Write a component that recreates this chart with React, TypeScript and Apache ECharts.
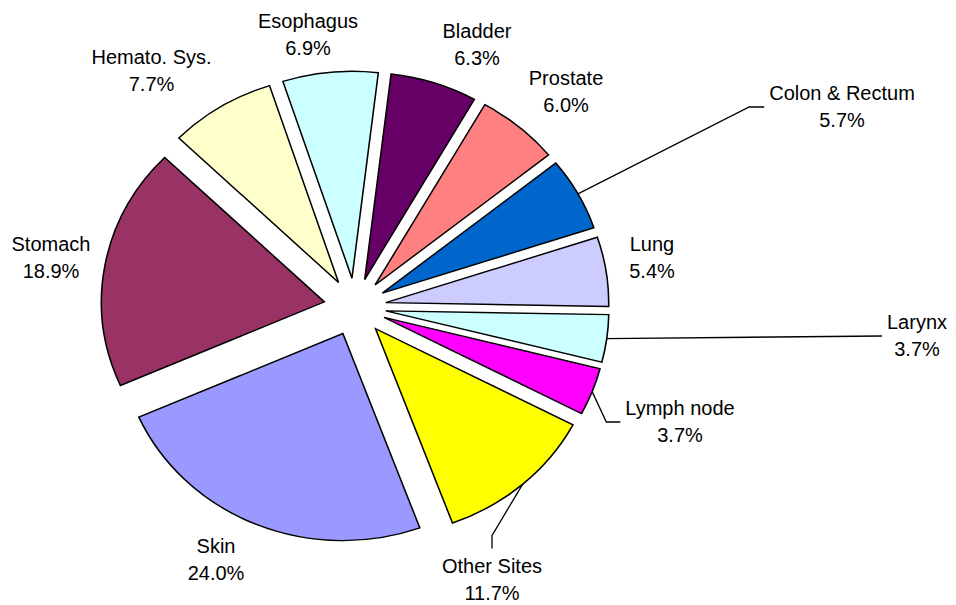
import React, { useEffect, useRef } from "react";
import * as echarts from "echarts";

// ---- data ----
const CATEGORIES = [
  "Bladder",
  "Prostate",
  "Colon & Rectum",
  "Lung",
  "Larynx",
  "Lymph node",
  "Other Sites",
  "Skin",
  "Stomach",
  "Hemato. Sys.",
  "Esophagus",
];
const PERCENTS = [6.3, 6.0, 5.7, 5.4, 3.7, 3.7, 11.7, 24.0, 18.9, 7.7, 6.9];

// ---- styles / layout ----
const COLORS = [
  "#660066",
  "#FF8080",
  "#0066CC",
  "#CCCCFF",
  "#CCFFFF",
  "#FF00FF",
  "#FFFF00",
  "#9999FF",
  "#993366",
  "#FFFFCC",
  "#CCFFFF",
];
const CX = 355;
const CY = 307;
const RADIUS = 215;
const EXPLODE = 30;
const SCALE_X = 1.037; // the reference pie is slightly elliptical
const SCALE_Y = 0.963;
const START_CLOCK = 6.8; // degrees clockwise from 12 o'clock
const LABEL_POS: [number, number][] = [
  [477, 44.5],
  [566, 91],
  [842, 106],
  [652, 257.5],
  [917, 335],
  [680, 421],
  [492, 579.5],
  [216, 559],
  [51, 257.5],
  [151.5, 70],
  [308, 34],
];
const LEADER_SIDE: (string | null)[] = [null, null, "left", null, "left", "left", "top", null, null, null, null];
const LEADER_LEG = [0, 0, 15, 0, 0, 14, 13, 0, 0, 0, 0];
const FONT = 'Arial, "Liberation Sans", sans-serif';

function buildOption(mode: "slices" | "labels") {
  const total = PERCENTS.reduce((a, b) => a + b, 0);
  let cum = 0;
  const mids = PERCENTS.map((v) => {
    const m = START_CLOCK + (360 * (cum + v / 2)) / total;
    cum += v;
    return (m * Math.PI) / 180;
  });

  const series = CATEGORIES.map((_, i) => {
    const ux = Math.sin(mids[i]);
    const uy = -Math.cos(mids[i]);
    const scx = CX + EXPLODE * ux;
    const scy = CY + EXPLODE * uy;
    const side = LEADER_SIDE[i];
    const showSlice = mode === "slices";
    return {
      type: "pie",
      center: [scx, scy],
      radius: RADIUS,
      startAngle: 90 - START_CLOCK,
      clockwise: true,
      avoidLabelOverlap: false,
      silent: true,
      emphasis: { disabled: true },
      label: {
        position: "outside",
        fontSize: 20,
        lineHeight: 27,
        color: "#000",
        fontFamily: FONT,
        formatter: (p: any) => `${p.name}\n${Number(p.value).toFixed(1)}%`,
      },
      labelLine: { length: 10, length2: 10, lineStyle: { color: "#000", width: 1.3 } },
      labelLayout: (params: any) => {
        if (params.dataIndex !== i) return {};
        const [lx, ly] = LABEL_POS[i];
        const w = params.labelRect.width;
        const h = params.labelRect.height;
        const out: any = { x: lx, y: ly, align: "center", verticalAlign: "middle" };
        if (side) {
          const ax = scx + RADIUS * ux;
          const ay = scy + RADIUS * uy;
          const p0 = [CX + (ax - CX) * SCALE_X, CY + (ay - CY) * SCALE_Y];
          let end: number[];
          let bend: number[];
          if (side === "left") {
            end = [lx - w / 2 - 5, ly + 1];
            bend = [end[0] - LEADER_LEG[i], end[1]];
          } else {
            end = [lx, ly - h / 2 - 4];
            bend = [end[0], end[1] - LEADER_LEG[i]];
          }
          out.labelLinePoints = [p0, bend, end];
        }
        return out;
      },
      data: CATEGORIES.map((name, j) =>
        j === i && showSlice
          ? {
              name,
              value: PERCENTS[j],
              itemStyle: {
                color: COLORS[j],
                borderColor: "#000",
                borderWidth: 1.5,
                borderJoin: "miter",
                borderMiterLimit: 10,
              },
              label: { show: false },
              labelLine: { show: false },
            }
          : j === i
          ? {
              name,
              value: PERCENTS[j],
              itemStyle: { color: "rgba(0,0,0,0)", borderWidth: 0 },
              label: { show: true },
              labelLine: { show: side != null },
            }
          : {
              name,
              value: PERCENTS[j],
              itemStyle: { color: "rgba(0,0,0,0)", borderWidth: 0 },
              label: { show: false },
              labelLine: { show: false },
            }
      ),
    };
  });

  return {
    animation: false,
    series,
  };
}

export default function App() {
  const sliceRef = useRef<HTMLDivElement>(null);
  const labelRef = useRef<HTMLDivElement>(null);
  useEffect(() => {
    if (!sliceRef.current || !labelRef.current) return;
    const slices = echarts.init(sliceRef.current, undefined, { renderer: "svg" });
    slices.setOption(buildOption("slices") as any);
    const labels = echarts.init(labelRef.current, undefined, { renderer: "svg" });
    labels.setOption(buildOption("labels") as any);
    return () => {
      slices.dispose();
      labels.dispose();
    };
  }, []);
  return (
    <div style={{ position: "fixed", left: 0, top: 0, width: 956, height: 605, background: "#fff" }}>
      <div
        ref={sliceRef}
        style={{
          position: "absolute",
          left: 0,
          top: 0,
          width: 956,
          height: 605,
          transform: `scale(${SCALE_X}, ${SCALE_Y})`,
          transformOrigin: `${CX}px ${CY}px`,
        }}
      />
      <div ref={labelRef} style={{ position: "absolute", left: 0, top: 0, width: 956, height: 605 }} />
    </div>
  );
}
